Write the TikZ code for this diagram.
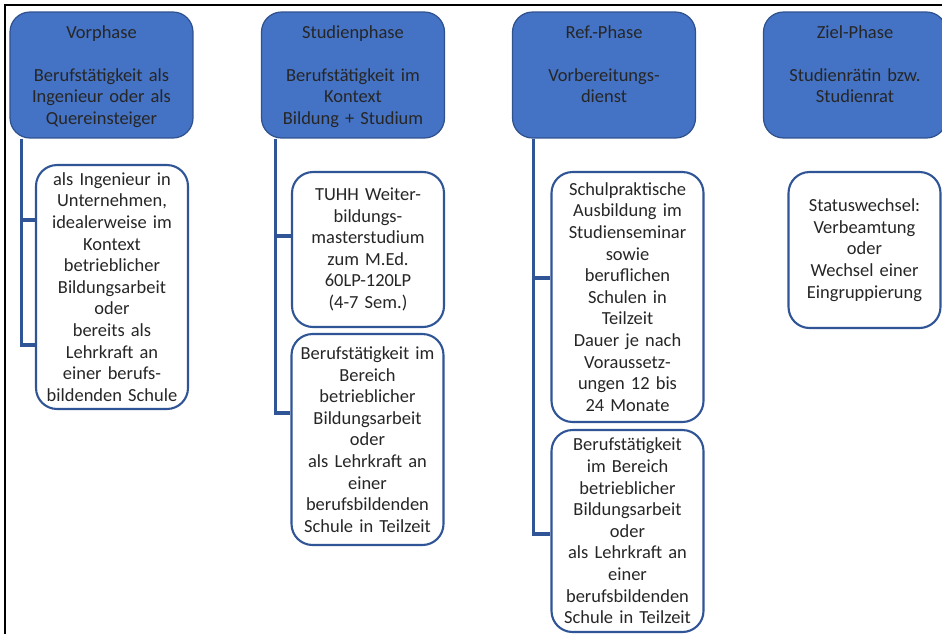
\documentclass[tikz,border=0pt]{standalone}
\usepackage{fontspec}
\setmainfont{Carlito}
\usetikzlibrary{positioning,calc}
\definecolor{phaseblue}{HTML}{4472C4}
\definecolor{phaseedge}{HTML}{2F528F}
\definecolor{taskedge}{HTML}{2F5597}

\begin{document}
\begin{tikzpicture}[
        x=0.02cm, y=-0.02cm,
        every node/.style={font=\fontsize{10.5}{12.3}\selectfont, align=center, text=black!85},
        phase/.style={draw=phaseedge, fill=phaseblue, line width=0.7pt, rounded corners=0.4cm, text width=3.4cm, minimum width=3.66cm, inner sep=0pt, text height=0.52cm, text depth=2cm},
        task/.style={draw=taskedge, fill=white, line width=1.2pt, rounded corners=0.42cm, text width=2.95cm, minimum width=3.04cm, inner sep=0pt},
        link/.style={draw=taskedge, line width=1.8pt}
    ]
        \useasboundingbox (0,0) rectangle (942,633);
        \draw[line width=1.6pt] (5,640) -- (5,5) -- (950,5);

        \node[phase] (vor) at (101.5,75) {Vorphase\\[12.3pt]Berufstätigkeit als\\Ingenieur oder als\\Quereinsteiger};
        \node[phase] (stud) at (353,75) {Studienphase\\[12.3pt]Berufstätigkeit im\\Kontext\\Bildung + Studium};
        \node[phase] (ref) at (604,75) {Ref.-Phase\\[12.3pt]Vorbereitungs-\\dienst};
        \node[phase] (ziel) at (855,75) {Ziel-Phase\\[12.3pt]Studienrätin bzw.\\Studienrat};

        \node[task, minimum height=4.88cm] (vorA) at (112,287) {als Ingenieur in\\Unternehmen,\\idealerweise im\\Kontext\\betrieblicher\\Bildungsarbeit\\oder\\bereits als\\Lehrkraft an\\einer berufs-\\bildenden Schule};
        \node[task, minimum height=3.1cm] (studA) at (368,249.5) {TUHH Weiter-\\bildungs-\\masterstudium\\zum M.Ed.\\60LP-120LP\\(4-7 Sem.)};
        \node[task, minimum height=4.22cm] (studB) at (367.5,439.5) {Berufstätigkeit im\\Bereich\\betrieblicher\\Bildungsarbeit\\oder\\als Lehrkraft an\\einer\\berufsbildenden\\Schule in Teilzeit};
        \node[task, minimum height=5cm] (refA) at (627.5,297) {Schulpraktische\\Ausbildung im\\Studienseminar\\sowie\\beruflichen\\Schulen in\\Teilzeit\\Dauer je nach\\Voraussetz-\\ungen 12 bis\\24 Monate};
        \node[task, minimum height=4.04cm] (refB) at (627.5,531) {Berufstätigkeit\\im Bereich\\betrieblicher\\Bildungsarbeit\\oder\\als Lehrkraft an\\einer\\berufsbildenden\\Schule in Teilzeit};
        \node[task, minimum height=3.12cm] (zielA) at (864.5,250) {Statuswechsel:\\Verbeamtung\\oder\\Wechsel einer\\Eingruppierung};

        \draw[link] ([xshift=0.24cm]vor.south west) |- ([yshift=1.34cm]vorA.west);
        \draw[link] ([xshift=0.24cm]vor.south west) |- ([yshift=-1.16cm]vorA.west);
        \draw[link] ([xshift=0.3cm]stud.south west) |- ([yshift=0.27cm]studA.west);
        \draw[link] ([xshift=0.3cm]stud.south west) |- ([yshift=0.53cm]studB.west);
        \draw[link] ([xshift=0.44cm]ref.south west) |- ([yshift=0.38cm]refA.west);
        \draw[link] ([xshift=0.44cm]ref.south west) |- ([yshift=-0.06cm]refB.west);
    \end{tikzpicture}
\end{document}
